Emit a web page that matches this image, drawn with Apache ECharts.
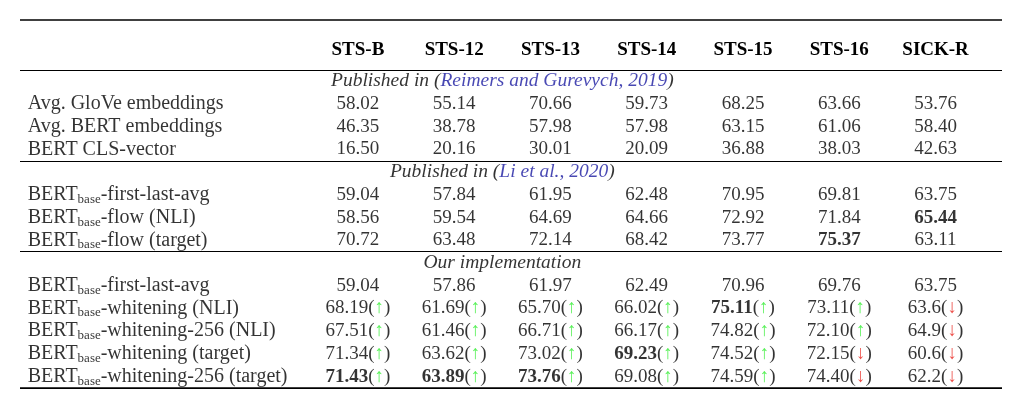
<!DOCTYPE html>
<html><head><meta charset="utf-8">
<script src="https://cdn.jsdelivr.net/npm/echarts@6/dist/echarts.min.js"></script>
<style>html,body{margin:0;background:#fff}#c{width:1022px;height:420px}</style>
</head><body><div id="c"></div>
<script>
var columns = ['STS-B','STS-12','STS-13','STS-14','STS-15','STS-16','SICK-R'];
// row kinds: s = section header, r = data row
var rowNames = [
  ['s','Published in (','Reimers and Gurevych, 2019',')'],
  ['r','Avg. GloVe embeddings'],
  ['r','Avg. BERT embeddings'],
  ['r','BERT CLS-vector'],
  ['s','Published in (','Li et al., 2020',')'],
  ['r','BERT|-first-last-avg'],
  ['r','BERT|-flow (NLI)'],
  ['r','BERT|-flow (target)'],
  ['s','','Our implementation',''],
  ['r','BERT|-first-last-avg'],
  ['r','BERT|-whitening (NLI)'],
  ['r','BERT|-whitening-256 (NLI)'],
  ['r','BERT|-whitening (target)'],
  ['r','BERT|-whitening-256 (target)']
];
var values = {
  1: ['58.02','55.14','70.66','59.73','68.25','63.66','53.76'],
  2: ['46.35','38.78','57.98','57.98','63.15','61.06','58.40'],
  3: ['16.50','20.16','30.01','20.09','36.88','38.03','42.63'],
  5: ['59.04','57.84','61.95','62.48','70.95','69.81','63.75'],
  6: ['58.56','59.54','64.69','64.66','72.92','71.84','65.44'],
  7: ['70.72','63.48','72.14','68.42','73.77','75.37','63.11'],
  9: ['59.04','57.86','61.97','62.49','70.96','69.76','63.75'],
  10: ['68.19','61.69','65.70','66.02','75.11','73.11','63.6'],
  11: ['67.51','61.46','66.71','66.17','74.82','72.10','64.9'],
  12: ['71.34','63.62','73.02','69.23','74.52','72.15','60.6'],
  13: ['71.43','63.89','73.76','69.08','74.59','74.40','62.2']
};
var arrows = {
  10: ['u','u','u','u','u','u','d'],
  11: ['u','u','u','u','u','u','d'],
  12: ['u','u','u','u','u','d','d'],
  13: ['u','u','u','u','u','d','d']
};
var bold = ['6,6','7,5','10,4','12,3','13,0','13,1','13,2'];

var FONT = 'Liberation Serif';
var labelData = [], sectionData = [], cellData = [];
rowNames.forEach(function (r, i) {
  if (r[0] === 's') sectionData.push({value: [1.5, i], pre: r[1], cite: r[2], post: r[3], plain: r[1] === ''});
  else labelData.push({value: [-3.43, i], name: r[1]});
});
Object.keys(values).forEach(function (k) {
  var i = +k;
  values[k].forEach(function (v, c) {
    cellData.push({value: [c, i], txt: v, b: bold.indexOf(i + ',' + c) >= 0, a: arrows[k] ? arrows[k][c] : null});
  });
});

var rich = {
  n: {fontFamily: FONT, fontSize: 19, color: '#000'},
  L: {fontFamily: FONT, fontSize: 20, color: '#000'},
  b: {fontFamily: FONT, fontSize: 19, color: '#000', fontWeight: 'bold'},
  sub: {fontFamily: FONT, fontSize: 13, color: '#000', padding: [9, 0, 0, 0]},
  u: {fontFamily: FONT, fontSize: 19, color: '#33ee33', fontWeight: 'bold'},
  d: {fontFamily: FONT, fontSize: 19, color: '#e8231c', fontWeight: 'bold'},
  it: {fontFamily: FONT, fontSize: 19.5, fontStyle: 'italic', color: '#000'},
  cite: {fontFamily: FONT, fontSize: 19.5, fontStyle: 'italic', color: '#1a1aa0'}
};

var chart = echarts.init(document.getElementById('c'));
chart.setOption({
  animation: false,
  grid: {left: 20, right: 20, top: 70, bottom: 32},
  xAxis: {
    type: 'value', min: -3.51, max: 6.69, position: 'top',
    splitLine: {show: false}, axisLine: {show: false}, axisTick: {show: false},
    axisLabel: {
      customValues: [0, 1, 2, 3, 4, 5, 6], margin: 10,
      fontFamily: FONT, fontSize: 19, fontWeight: 'bold', color: '#000',
      formatter: function (v) { return columns[Math.round(v)] || ''; }
    }
  },
  yAxis: {
    type: 'category', inverse: true, data: rowNames.map(function (r, i) { return i; }),
    axisLabel: {show: false}, axisTick: {show: false}, axisLine: {show: false},
    splitLine: {show: true, interval: function (idx) { return [0, 4, 8].indexOf(idx) >= 0; },
      lineStyle: {color: '#000', width: 1}}
  },
  graphic: [
    {type: 'line', shape: {x1: 20, y1: 20, x2: 1002, y2: 20}, style: {stroke: '#000', lineWidth: 1.5}},
    {type: 'line', shape: {x1: 20, y1: 388, x2: 1002, y2: 388}, style: {stroke: '#000', lineWidth: 1.5}}
  ],
  series: [
    {type: 'scatter', symbolSize: 0, data: labelData,
      label: {show: true, position: 'right', distance: 0, rich: rich,
        formatter: function (p) {
          var s = p.data.name.split('|');
          return s.length > 1 ? '{L|' + s[0] + '}{sub|base}{L|' + s[1] + '}' : '{L|' + s[0] + '}';
        }}},
    {type: 'scatter', symbolSize: 0, data: sectionData,
      label: {show: true, position: 'inside', rich: rich,
        formatter: function (p) {
          var d = p.data;
          if (d.plain) return '{it|' + d.cite + '}';
          return '{it|' + d.pre + '}{cite|' + d.cite + '}{it|' + d.post + '}';
        }}},
    {type: 'scatter', symbolSize: 0, data: cellData,
      label: {show: true, position: 'inside', rich: rich,
        formatter: function (p) {
          var d = p.data;
          var s = '{' + (d.b ? 'b' : 'n') + '|' + d.txt + '}';
          if (d.a) s += '{n|(}{' + d.a + '|' + (d.a === 'u' ? '↑' : '↓') + '}{n|)}';
          return s;
        }}}
  ]
});
</script></body></html>
